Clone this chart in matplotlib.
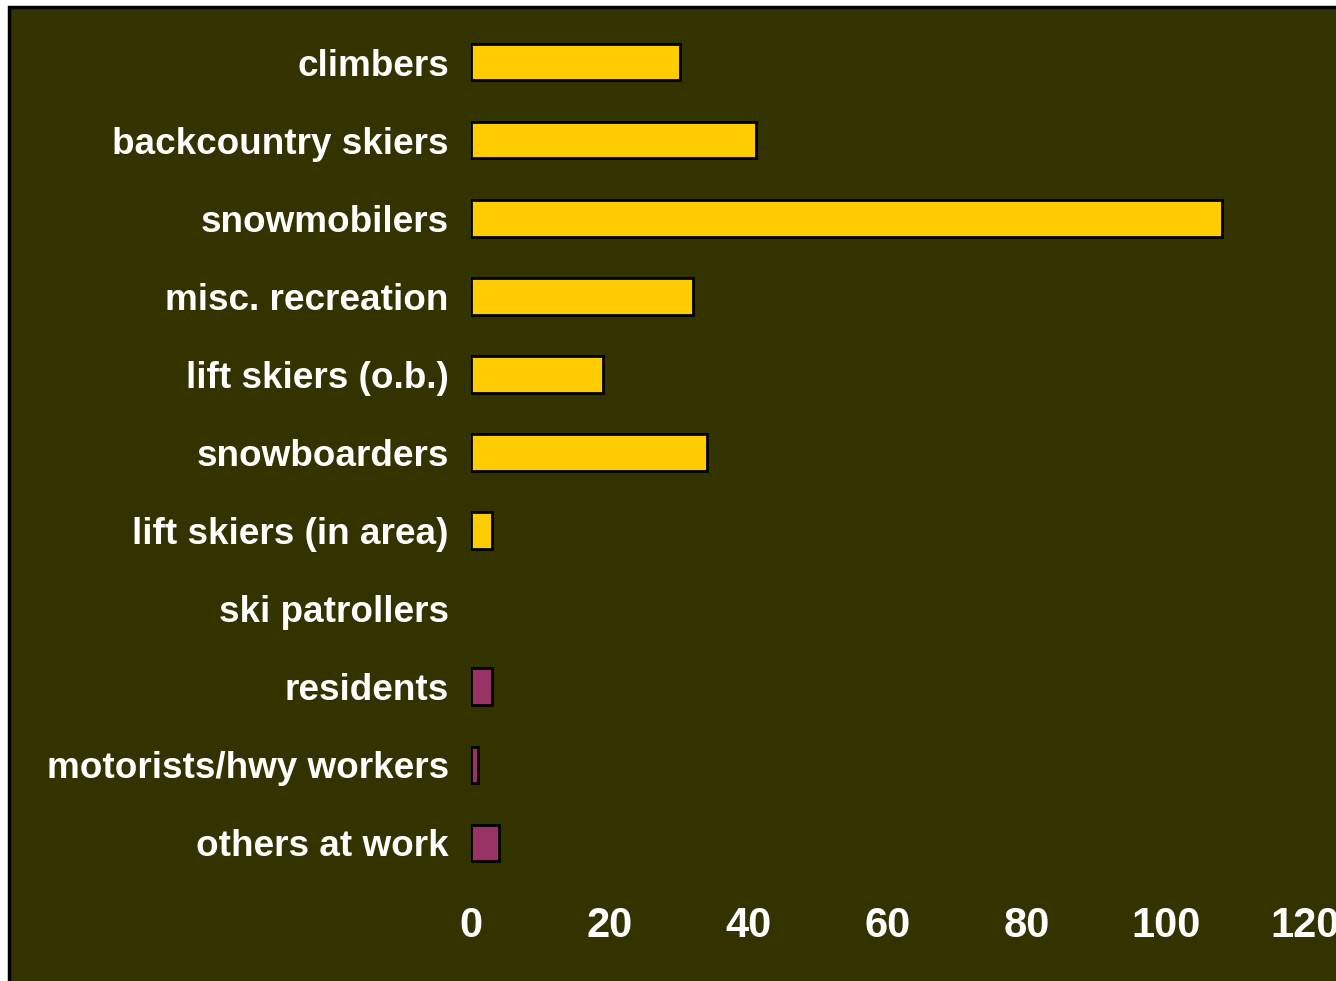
import numpy as np
import matplotlib.pyplot as plt
from matplotlib.patches import Rectangle

categories = ['climbers', 'backcountry skiers', 'snowmobilers', 'misc. recreation',
              'lift skiers (o.b.)', 'snowboarders', 'lift skiers (in area)',
              'ski patrollers', 'residents', 'motorists/hwy workers', 'others at work']
values = [30, 41, 108, 32, 19, 34, 3, 0, 3, 1, 4]
groups = ['rec'] * 8 + ['work'] * 3
xticks = [0, 20, 40, 60, 80, 100, 120]

bg = '#333300'
colors = ['#FFCC00' if g == 'rec' else '#993366' for g in groups]

fig = plt.figure(figsize=(13.36, 9.81), dpi=100)
fig.patch.set_facecolor('white')
# dark panel with black frame, runs off the right and bottom edges
fig.patches.append(Rectangle((9 / 1336, -0.05), 1.1, 1 - 6 / 981 + 0.05 - 0.0015,
                             transform=fig.transFigure, facecolor=bg,
                             edgecolor='black', linewidth=2.5, zorder=-5))

ax = fig.add_axes([471 / 1336, 1 - 882 / 981, (1305 - 471) / 1336, (882 - 23) / 981])
ax.set_facecolor('none')

y = np.arange(len(categories))
lw = [0 if v == 0 else 2.0 for v in values]
ax.barh(y, values, height=0.47, color=colors, edgecolor='black', linewidth=lw)

ax.set_ylim(len(categories) - 0.5, -0.5)
ax.set_xlim(0, 120)
ax.set_yticks(y)
ax.set_yticklabels(categories, fontsize=26.6, fontweight='bold', color='white',
                   family=['Liberation Sans', 'DejaVu Sans'])
ax.set_xticks(xticks)
ax.set_xticklabels([str(t) for t in xticks], fontsize=30, fontweight='bold', color='white',
                   family=['Liberation Sans Narrow', 'Liberation Sans', 'DejaVu Sans'])
ax.tick_params(axis='y', length=0, pad=16)
ax.tick_params(axis='x', length=0, pad=17)
for s in ax.spines.values():
    s.set_visible(False)

fig.savefig('out.png', dpi=100, facecolor=fig.get_facecolor())
